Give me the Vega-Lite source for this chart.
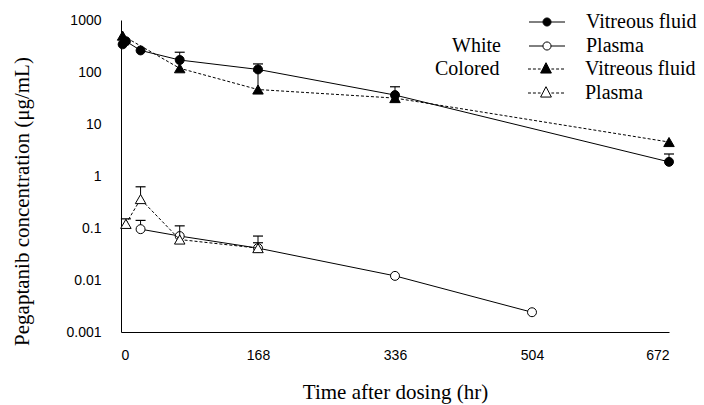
{
  "$schema": "https://vega.github.io/schema/vega-lite/v6.json",
  "width": 548,
  "height": 312,
  "autosize": {"type": "none"},
  "padding": {"left": 121, "top": 20, "right": 35, "bottom": 73},
  "background": "white",
  "config": {
    "view": {"stroke": null},
    "axis": {
      "grid": false,
      "domainColor": "black",
      "domainWidth": 1,
      "labelColor": "black",
      "labelFont": "Liberation Sans",
      "labelFontSize": 14,
      "titleColor": "black",
      "titleFont": "Liberation Serif",
      "titleFontSize": 21,
      "titleFontWeight": "normal"
    },
    "legend": {
      "labelFont": "Liberation Serif",
      "labelFontSize": 20,
      "labelColor": "black",
      "titleFont": "Liberation Serif",
      "titleFontSize": 20,
      "titleFontWeight": "normal",
      "titleColor": "black",
      "padding": 0,
      "offset": 0
    }
  },
  "datasets": {
    "series": [
      {"group": "White", "tissue": "Vitreous fluid", "t": 2, "value": 340},
      {"group": "White", "tissue": "Vitreous fluid", "t": 6, "value": 390},
      {"group": "White", "tissue": "Vitreous fluid", "t": 24, "value": 260},
      {"group": "White", "tissue": "Vitreous fluid", "t": 72, "value": 170, "upper": 240},
      {"group": "White", "tissue": "Vitreous fluid", "t": 168, "value": 112, "upper": 143},
      {"group": "White", "tissue": "Vitreous fluid", "t": 336, "value": 36, "upper": 52},
      {"group": "White", "tissue": "Vitreous fluid", "t": 672, "value": 1.87, "upper": 2.65},
      {"group": "White", "tissue": "Plasma", "t": 24, "value": 0.095, "upper": 0.14},
      {"group": "White", "tissue": "Plasma", "t": 72, "value": 0.07},
      {"group": "White", "tissue": "Plasma", "t": 168, "value": 0.041, "upper": 0.052},
      {"group": "White", "tissue": "Plasma", "t": 336, "value": 0.012},
      {"group": "White", "tissue": "Plasma", "t": 504, "value": 0.0024},
      {"group": "Colored", "tissue": "Vitreous fluid", "t": 2, "value": 500},
      {"group": "Colored", "tissue": "Vitreous fluid", "t": 72, "value": 118},
      {"group": "Colored", "tissue": "Vitreous fluid", "t": 168, "value": 46, "upper": 105},
      {"group": "Colored", "tissue": "Vitreous fluid", "t": 336, "value": 31.5},
      {"group": "Colored", "tissue": "Vitreous fluid", "t": 672, "value": 4.5},
      {"group": "Colored", "tissue": "Plasma", "t": 6, "value": 0.12, "upper": 0.15},
      {"group": "Colored", "tissue": "Plasma", "t": 24, "value": 0.36, "upper": 0.62},
      {"group": "Colored", "tissue": "Plasma", "t": 72, "value": 0.06, "upper": 0.11},
      {"group": "Colored", "tissue": "Plasma", "t": 168, "value": 0.041, "upper": 0.07}
    ],
    "yticks": [
      {"value": 0.001}, {"value": 0.002}, {"value": 0.003}, {"value": 0.004}, {"value": 0.005}, {"value": 0.006}, {"value": 0.007}, {"value": 0.008}, {"value": 0.009},
      {"value": 0.01}, {"value": 0.02}, {"value": 0.03}, {"value": 0.04}, {"value": 0.05}, {"value": 0.06}, {"value": 0.07}, {"value": 0.08}, {"value": 0.09},
      {"value": 0.1}, {"value": 0.2}, {"value": 0.3}, {"value": 0.4}, {"value": 0.5}, {"value": 0.6}, {"value": 0.7}, {"value": 0.8}, {"value": 0.9},
      {"value": 1}, {"value": 2}, {"value": 3}, {"value": 4}, {"value": 5}, {"value": 6}, {"value": 7}, {"value": 8}, {"value": 9},
      {"value": 10}, {"value": 20}, {"value": 30}, {"value": 40}, {"value": 50}, {"value": 60}, {"value": 70}, {"value": 80}, {"value": 90},
      {"value": 100}, {"value": 200}, {"value": 300}, {"value": 400}, {"value": 500}, {"value": 600}, {"value": 700}, {"value": 800}, {"value": 900},
      {"value": 1000}
    ],
    "xticks": [
      {"t": 0}, {"t": 24}, {"t": 48}, {"t": 72}, {"t": 96}, {"t": 120}, {"t": 144}, {"t": 168}, {"t": 192}, {"t": 216}, {"t": 240}, {"t": 264}, {"t": 288}, {"t": 312}, {"t": 336},
      {"t": 360}, {"t": 384}, {"t": 408}, {"t": 432}, {"t": 456}, {"t": 480}, {"t": 504}, {"t": 528}, {"t": 552}, {"t": 576}, {"t": 600}, {"t": 624}, {"t": 648}, {"t": 672}
    ]
  },
  "data": {"name": "series"},
  "encoding": {
    "x": {
      "field": "t",
      "type": "quantitative",
      "title": "Time after dosing (hr)",
      "scale": {"domain": [0, 672], "nice": false, "zero": false},
      "axis": {
        "values": [0, 168, 336, 504, 672],
        "ticks": false,
        "tickSize": 0,
        "labelPadding": 16,
        "titlePadding": 19
      }
    },
    "y": {
      "field": "value",
      "type": "quantitative",
      "title": "Pegaptanib concentration (μg/mL)",
      "scale": {"type": "log", "domain": [0.001, 1000], "nice": false},
      "axis": {
        "values": [0.001, 0.01, 0.1, 1, 10, 100, 1000],
        "format": "~g",
        "ticks": false,
        "tickSize": 0,
        "labelPadding": 20,
        "titleX": -89,
        "titleY": 181
      }
    }
  },
  "layer": [
    {
      "data": {"name": "yticks"},
      "transform": [{"filter": "indexof([1000, 100, 10, 1, 0.1, 0.01, 0.001], datum.value) >= 0"}],
      "mark": {"type": "point", "shape": "M0,0H1", "size": 144, "stroke": "black", "strokeWidth": 1, "filled": false, "opacity": 1},
      "encoding": {"x": {"datum": 0, "type": "quantitative", "title": "Time after dosing (hr)"}}
    },
    {
      "data": {"name": "yticks"},
      "transform": [{"filter": "indexof([1000, 100, 10, 1, 0.1, 0.01, 0.001], datum.value) < 0"}],
      "mark": {"type": "point", "shape": "M0,0H1", "size": 36, "stroke": "black", "strokeWidth": 1, "filled": false, "opacity": 1},
      "encoding": {"x": {"datum": 0, "type": "quantitative", "title": "Time after dosing (hr)"}}
    },
    {
      "data": {"name": "xticks"},
      "mark": {"type": "point", "shape": "M0,0V-1", "size": 100, "stroke": "black", "strokeWidth": 1, "filled": false, "opacity": 1},
      "encoding": {"y": {"datum": 0.001, "type": "quantitative", "title": "Pegaptanib concentration (μg/mL)"}}
    },
    {
      "transform": [{"filter": "datum.group === 'White'"}],
      "layer": [
        {
          "mark": {"type": "line", "color": "black", "strokeWidth": 1},
          "encoding": {"detail": {"field": "tissue"}}
        },
        {
          "transform": [{"filter": "isValid(datum.upper)"}],
          "mark": {"type": "rule", "color": "black", "strokeWidth": 1},
          "encoding": {"y2": {"field": "upper"}}
        },
        {
          "transform": [{"filter": "isValid(datum.upper)"}],
          "mark": {"type": "point", "shape": "M-1,0H1", "size": 100, "stroke": "black", "strokeWidth": 1.2, "filled": false, "opacity": 1},
          "encoding": {"y": {"field": "upper", "type": "quantitative", "title": "Pegaptanib concentration (μg/mL)"}}
        },
        {
          "mark": {"type": "point", "shape": "circle", "size": 80, "filled": true, "stroke": "black", "strokeWidth": 1, "opacity": 1},
          "encoding": {
            "fill": {
              "field": "tissue",
              "type": "nominal",
              "scale": {"domain": ["Vitreous fluid", "Plasma"], "range": ["black", "white"]},
              "legend": {
                "title": "White",
                "orient": "none",
                "legendX": 331,
                "legendY": -8,
                "titleOrient": "left",
                "titleAnchor": "end",
                "titlePadding": 36,
                "symbolType": "M-2,0H-0.45M0.45,0H2M-0.45,0A0.45,0.45,0,1,1,0.45,0A0.45,0.45,0,1,1,-0.45,0Z",
                "symbolSize": 324,
                "symbolStrokeColor": "black",
                "symbolStrokeWidth": 1,
                "labelOffset": 29,
                "rowPadding": 4
              }
            }
          }
        }
      ]
    },
    {
      "transform": [{"filter": "datum.group === 'Colored'"}],
      "layer": [
        {
          "mark": {"type": "line", "color": "black", "strokeWidth": 1, "strokeDash": [3, 2]},
          "encoding": {"detail": {"field": "tissue"}}
        },
        {
          "transform": [{"filter": "isValid(datum.upper)"}],
          "mark": {"type": "rule", "color": "black", "strokeWidth": 1},
          "encoding": {"y2": {"field": "upper"}}
        },
        {
          "transform": [{"filter": "isValid(datum.upper)"}],
          "mark": {"type": "point", "shape": "M-1,0H1", "size": 100, "stroke": "black", "strokeWidth": 1.2, "filled": false, "opacity": 1},
          "encoding": {"y": {"field": "upper", "type": "quantitative", "title": "Pegaptanib concentration (μg/mL)"}}
        },
        {
          "mark": {"type": "point", "shape": "triangle-up", "size": 110, "filled": true, "stroke": "black", "strokeWidth": 1, "opacity": 1},
          "encoding": {
            "fill": {
              "field": "tissue",
              "type": "nominal",
              "scale": {"domain": ["Vitreous fluid", "Plasma"], "range": ["black", "white"]},
              "legend": {
                "title": "Colored",
                "orient": "none",
                "legendX": 314,
                "legendY": 39,
                "titleOrient": "left",
                "titleAnchor": "start",
                "titlePadding": 36,
                "symbolType": "M-2,0H-1.67M-1.45,0H-1.12M-0.9,0H-0.6M0.6,0H0.9M1.12,0H1.45M1.67,0H2M0,-0.7L0.6,0.45L-0.6,0.45Z",
                "symbolSize": 324,
                "symbolStrokeColor": "black",
                "symbolStrokeWidth": 1,
                "labelOffset": 29,
                "rowPadding": 4
              }
            }
          }
        }
      ]
    }
  ],
  "resolve": {"scale": {"fill": "independent"}}
}
